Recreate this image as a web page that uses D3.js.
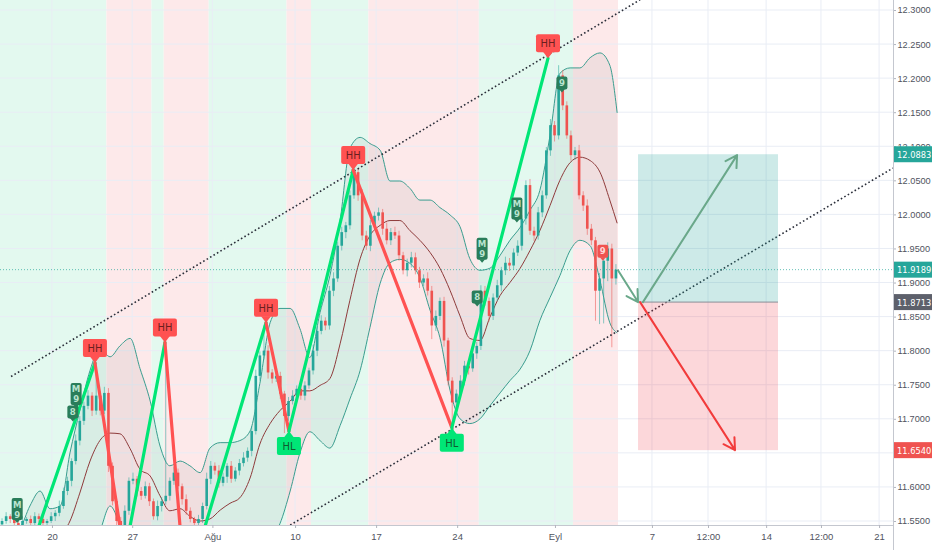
<!DOCTYPE html>
<html>
<head>
<meta charset="utf-8">
<script src="https://cdn.jsdelivr.net/npm/d3@7"></script>
<style>
  html, body { margin: 0; padding: 0; background: #fff; }
  svg { display: block; font-family: "DejaVu Sans Condensed", "Liberation Sans", sans-serif; }
</style>
</head>
<body>
<div id="container"></div>
<script>
"use strict";

// 4h candles, open = previous close
const firstOpen = 11.545;
const closes = [
  11.550, 11.557, 11.553, 11.547, 11.543, 11.550, 11.553, 11.547, 11.557, 11.553,
  11.547, 11.550, 11.557, 11.562, 11.572, 11.594, 11.609, 11.638, 11.668, 11.697,
  11.719, 11.734, 11.712, 11.734, 11.712, 11.738, 11.631, 11.579, 11.550, 11.535,
  11.565, 11.609, 11.612, 11.594, 11.587, 11.601, 11.579, 11.557, 11.572, 11.579,
  11.587, 11.609, 11.621, 11.601, 11.582, 11.565, 11.553, 11.547, 11.553, 11.572,
  11.612, 11.631, 11.624, 11.606, 11.615, 11.631, 11.612, 11.624, 11.635, 11.643,
  11.653, 11.682, 11.763, 11.793, 11.800, 11.768, 11.759, 11.763, 11.737, 11.704,
  11.726, 11.734, 11.744, 11.734, 11.749, 11.771, 11.800, 11.829, 11.844, 11.837,
  11.888, 11.906, 11.954, 11.974, 11.984, 12.028, 12.062, 12.028, 11.969, 11.954,
  11.984, 11.998, 12.003, 11.979, 11.962, 11.974, 11.969, 11.940, 11.918, 11.929,
  11.937, 11.918, 11.900, 11.906, 11.888, 11.837, 11.851, 11.873, 11.815, 11.756,
  11.724, 11.737, 11.756, 11.778, 11.774, 11.796, 11.807, 11.888, 11.873, 11.851,
  11.878, 11.896, 11.918, 11.929, 11.925, 11.944, 11.954, 11.994, 12.043, 11.976,
  11.969, 12.003, 12.028, 12.094, 12.131, 12.116, 12.204, 12.160, 12.116, 12.087,
  12.094, 12.028, 12.013, 11.979, 11.962, 11.888, 11.906, 11.932, 11.950, 11.906,
  11.919
];
// wick lengths above / below the body, in 0.001
const wickUp = [
  4, 6, 3, 5, 4, 7, 3, 5, 6, 4,
  5, 3, 6, 4, 8, 5, 6, 4, 9, 7,
  6, 8, 5, 48, 6, 9, 7, 5, 4, 6,
  8, 5, 9, 4, 6, 7, 5, 4, 8, 6,
  224, 5, 8, 6, 4, 7, 5, 3, 6, 5,
  9, 7, 5, 8, 6, 4, 7, 5, 6, 8,
  5, 7, 9, 6, 37, 8, 5, 7, 6, 4,
  6, 8, 5, 7, 6, 4, 9, 6, 8, 5,
  7, 9, 6, 8, 5, 7, 10, 6, 9, 7,
  8, 6, 7, 5, 9, 6, 8, 7, 5, 6,
  8, 7, 5, 6, 9, 7, 8, 5, 6, 4,
  5, 6, 8, 7, 5, 9, 6, 8, 7, 5,
  6, 8, 5, 9, 7, 6, 8, 5, 7, 9,
  6, 8, 7, 5, 9, 6, 15, 8, 6, 7,
  5, 8, 6, 9, 7, 5, 8, 6, 9, 7,
  8
];
const wickDn = [
  5, 4, 6, 3, 7, 5, 4, 6, 3, 5,
  4, 6, 3, 7, 5, 4, 6, 8, 5, 7,
  6, 5, 8, 6, 7, 5, 9, 6, 8, 5,
  7, 6, 5, 8, 6, 4, 7, 5, 6, 8,
  5, 7, 6, 4, 8, 6, 5, 7, 4, 6,
  5, 8, 6, 7, 5, 9, 6, 4, 7, 5,
  6, 8, 5, 7, 6, 9, 7, 5, 8, 25,
  7, 5, 8, 6, 7, 5, 6, 8, 5, 7,
  6, 8, 5, 7, 9, 6, 5, 8, 7, 6,
  8, 5, 7, 9, 6, 7, 5, 8, 6, 9,
  7, 6, 8, 5, 7, 20, 8, 6, 9, 7,
  37, 8, 6, 7, 9, 5, 8, 6, 7, 8,
  6, 5, 9, 7, 8, 6, 5, 7, 9, 6,
  8, 6, 7, 5, 8, 9, 6, 7, 5, 8,
  7, 6, 8, 9, 7, 44, 49, 66, 30, 101,
  9
];

// bollinger bands, sampled along the bars
const bbBar = [
  0, 2.4, 4.9, 7.3, 9.8, 12.2, 14.7, 17.1, 19.5, 22.0,
  24.4, 26.9, 29.3, 31.8, 34.2, 36.7, 39.1, 41.5, 44.0, 46.4,
  48.9, 51.3, 53.8, 56.2, 58.6, 61.1, 63.5, 66.0, 68.4, 70.9,
  73.3, 75.7, 78.2, 80.6, 83.1, 85.5, 88.0, 90.4, 92.9, 95.3,
  97.7, 100.2, 102.6, 105.1, 107.5, 110.0, 112.4, 114.8, 117.3, 119.7,
  122.2, 124.6, 127.1, 129.5, 131.9, 134.4, 136.8, 139.3, 141.7, 144.2,
  146.6, 149.0, 150.8
];
const bbUpper = [
  11.528, 11.532, 11.540, 11.572, 11.594, 11.568, 11.572, 11.650, 11.712, 11.771,
  11.803, 11.791, 11.807, 11.818, 11.774, 11.726, 11.660, 11.631, 11.638, 11.631,
  11.621, 11.657, 11.665, 11.665, 11.668, 11.682, 11.752, 11.841, 11.862, 11.862,
  11.832, 11.790, 11.856, 11.910, 11.991, 12.097, 12.113, 12.104, 12.094, 12.049,
  12.049, 12.038, 12.021, 12.021, 12.010, 11.999, 11.982, 11.935, 11.918, 11.921,
  11.940, 11.962, 11.981, 12.006, 12.035, 12.116, 12.207, 12.215, 12.215, 12.230,
  12.237, 12.219, 12.149
];
const bbMiddle = [
  11.432, 11.447, 11.469, 11.491, 11.506, 11.513, 11.528, 11.550, 11.591, 11.638,
  11.668, 11.679, 11.678, 11.656, 11.626, 11.616, 11.587, 11.565, 11.568, 11.557,
  11.550, 11.553, 11.566, 11.576, 11.584, 11.613, 11.663, 11.693, 11.712, 11.726,
  11.741, 11.741, 11.749, 11.759, 11.810, 11.874, 11.935, 11.969, 11.984, 11.991,
  11.991, 11.976, 11.962, 11.944, 11.921, 11.888, 11.851, 11.818, 11.815, 11.849,
  11.881, 11.900, 11.921, 11.947, 11.976, 12.013, 12.050, 12.076, 12.084, 12.079,
  12.062, 12.021, 11.987
];
const bbLower = [
  11.344, 11.359, 11.396, 11.410, 11.418, 11.454, 11.484, 11.454, 11.469, 11.506,
  11.535, 11.572, 11.543, 11.491, 11.469, 11.454, 11.447, 11.447, 11.454, 11.469,
  11.476, 11.476, 11.484, 11.491, 11.498, 11.498, 11.506, 11.521, 11.546, 11.594,
  11.650, 11.681, 11.668, 11.657, 11.690, 11.729, 11.771, 11.834, 11.899, 11.929,
  11.934, 11.928, 11.907, 11.859, 11.819, 11.741, 11.700, 11.693, 11.700, 11.719,
  11.738, 11.756, 11.773, 11.800, 11.844, 11.878, 11.910, 11.947, 11.962, 11.954,
  11.903, 11.841, 11.826
];

// trend background zones (bar edges)
const zoneEdges = [0, 26, 37, 40, 51, 70, 76, 90, 117, 140, 151];
const zoneTrend = ["up", "down", "up", "down", "up", "down", "up", "down", "up", "down"];

// zigzag pivots
const pivotBars = [7.3, 23.2, 30.4, 40.3, 45.3, 65.0, 70.6, 86.3, 110.4, 133.9];
const pivotPrices = [11.504, 11.782, 11.499, 11.812, 11.446, 11.841, 11.682, 12.065, 11.687, 12.229];
const pivotTags = ["", "HH", "", "HH", "", "HH", "HL", "HH", "HL", "HH"];

// sequential count labels
const tdBars = [4.2, 18.6, 17.8, 117.8, 116.6, 126.3, 137.3, 147.3];
const tdPrices = [11.547, 11.716, 11.696, 11.929, 11.865, 11.988, 12.179, 11.932];
const tdTexts = ["M9", "M9", "8", "M9", "8", "M9", "9", "9"];
const tdTrend = ["up", "up", "up", "up", "up", "up", "up", "down"];

// parallel channel
const channelTop = [[2.7, 11.762], [156.4, 12.315]];
const channelBottom = [[70.9, 11.544], [218.2, 12.068]];

// long position tool
const posBars = [155.9, 190.1];
const posEntry = 11.8713;
const posTarget = 12.0883;
const posStop = 11.6540;
const lastPrice = 11.9189;

// arrows: [from bar, from price, to bar, to price]
const arrowLines = [
  [151.0, 11.918, 155.9, 11.8713],
  [157.1, 11.8713, 180.1, 12.087],
  [156.4, 11.8713, 179.6, 11.654]
];
const arrowColors = ["#6aa88a", "#6aa88a", "#f23b3b"];

// axes (11.65 sits under the stop label)
const priceTicks = [11.55, 11.60, 11.70, 11.75, 11.80, 11.85, 11.90, 11.95, 12.00, 12.05, 12.10, 12.15, 12.20, 12.25, 12.30];
const dateTickBars = [12.7, 32.3, 51.9, 72.1, 91.9, 111.7, 135.6, 159.3, 173.0, 187.2, 200.6, 214.8];
const dateTickLabels = ["20", "27", "Ağu", "10", "17", "24", "Eyl", "7", "12:00", "14", "12:00", "21"];

const width = 932, height = 550;
const plotW = 893, plotH = 525;

const x = d3.scaleLinear().domain([0, 218.2]).range([0, plotW]);
const y = d3.scaleLinear().domain([11.55, 12.30]).range([521, 10]);
const step = x(1) - x(0);

const svg = d3.select("#container").append("svg")
  .attr("width", width).attr("height", height);

svg.append("defs").append("clipPath").attr("id", "plot")
  .append("rect").attr("width", plotW).attr("height", plotH);

const g = svg.append("g").attr("clip-path", "url(#plot)");

// background zones
g.selectAll(".zone").data(zoneTrend).enter().append("rect")
  .attr("x", (d, i) => x(zoneEdges[i]))
  .attr("width", (d, i) => x(zoneEdges[i + 1]) - x(zoneEdges[i]))
  .attr("y", 0).attr("height", plotH)
  .attr("fill", d => d === "up" ? "#e3f9ef" : "#fde9ea");

// grid
g.selectAll(".hgrid").data(priceTicks.concat([11.65])).enter().append("line")
  .attr("x1", 0).attr("x2", plotW)
  .attr("y1", d => y(d)).attr("y2", d => y(d))
  .attr("stroke", "#e9edf5").attr("stroke-width", 1);
g.selectAll(".vgrid").data(dateTickBars).enter().append("line")
  .attr("x1", d => x(d)).attr("x2", d => x(d))
  .attr("y1", 0).attr("y2", plotH)
  .attr("stroke", "#e9edf5").attr("stroke-width", 1);

// bollinger bands
const bb = bbBar.map((b, i) => ({ b, u: bbUpper[i], m: bbMiddle[i], l: bbLower[i] }));
g.append("path").datum(bb)
  .attr("d", d3.area().curve(d3.curveMonotoneX).x(d => x(d.b)).y0(d => y(d.l)).y1(d => y(d.u)))
  .attr("fill", "rgba(70,80,80,0.07)");
[["u", "#3a9d8f"], ["l", "#3a9d8f"], ["m", "#8e3b3b"]].forEach(([k, c]) => {
  g.append("path").datum(bb)
    .attr("d", d3.line().curve(d3.curveMonotoneX).x(d => x(d.b)).y(d => y(d[k])))
    .attr("fill", "none").attr("stroke", c).attr("stroke-width", 1);
});

// candles
const candles = closes.map((c, i) => {
  const o = i === 0 ? firstOpen : closes[i - 1];
  return { i, o, c, h: Math.max(o, c) + wickUp[i] / 1000, l: Math.min(o, c) - wickDn[i] / 1000 };
});
const upCol = "#26a69a", dnCol = "#ef5350";
g.selectAll(".wick").data(candles).enter().append("line")
  .attr("x1", d => x(d.i + 0.5)).attr("x2", d => x(d.i + 0.5))
  .attr("y1", d => y(d.h)).attr("y2", d => y(d.l))
  .attr("stroke", d => d.c >= d.o ? upCol : dnCol)
  .attr("stroke-opacity", 0.55).attr("stroke-width", 1);
g.selectAll(".body").data(candles).enter().append("rect")
  .attr("x", d => x(d.i + 0.5) - step * 0.32)
  .attr("width", step * 0.64)
  .attr("y", d => y(Math.max(d.o, d.c)))
  .attr("height", d => Math.max(1, Math.abs(y(d.o) - y(d.c))))
  .attr("fill", d => d.c >= d.o ? upCol : dnCol);

// channel
[channelTop, channelBottom].forEach(pts => {
  g.append("line")
    .attr("x1", x(pts[0][0])).attr("y1", y(pts[0][1]))
    .attr("x2", x(pts[1][0])).attr("y2", y(pts[1][1]))
    .attr("stroke", "#2a2e39").attr("stroke-width", 1.6)
    .attr("stroke-dasharray", "1.6,2.4");
});

// zigzag
for (let i = 0; i < pivotBars.length - 1; i++) {
  const rising = pivotPrices[i + 1] > pivotPrices[i];
  g.append("line")
    .attr("x1", x(pivotBars[i])).attr("y1", y(pivotPrices[i]))
    .attr("x2", x(pivotBars[i + 1])).attr("y2", y(pivotPrices[i + 1]))
    .attr("stroke", rising ? "#00e676" : "#ff5252")
    .attr("stroke-width", 3.2).attr("stroke-linecap", "round");
}

// sequential labels
tdTexts.forEach((t, i) => {
  const cx = x(tdBars[i]), ty = y(tdPrices[i]);
  const h = t.length > 1 ? 22 : 13;
  const fill = tdTrend[i] === "up" ? "#2a7d5a" : "#f05350";
  const lg = g.append("g");
  lg.append("rect").attr("x", cx - 5.5).attr("y", ty - 3 - h).attr("width", 11).attr("height", h)
    .attr("rx", 2).attr("fill", fill);
  lg.append("path").attr("d", `M${cx - 3},${ty - 3.5}L${cx + 3},${ty - 3.5}L${cx},${ty}Z`).attr("fill", fill);
  t.split("").forEach((ch, k) => {
    lg.append("text").attr("x", cx).attr("y", ty - 3 - h + 9.5 + k * 10)
      .attr("text-anchor", "middle").attr("font-size", 9.5).attr("font-weight", "bold")
      .attr("fill", tdTrend[i] === "up" ? "#b9e4cf" : "#ffd7d7").text(ch);
  });
});

// pivot tags
pivotTags.forEach((t, i) => {
  if (!t) return;
  const px = x(pivotBars[i]), py = y(pivotPrices[i]);
  const high = t === "HH";
  const fill = high ? "#ff5252" : "#00e676";
  const lg = svg.append("g").attr("clip-path", "url(#plot)");
  const by = high ? py - 24 : py + 6;
  lg.append("rect").attr("x", px - 12).attr("y", by).attr("width", 24).attr("height", 18)
    .attr("rx", 2).attr("fill", fill);
  lg.append("path")
    .attr("d", high ? `M${px - 5},${py - 6.5}L${px + 5},${py - 6.5}L${px},${py}Z`
                    : `M${px - 5},${py + 6.5}L${px + 5},${py + 6.5}L${px},${py}Z`)
    .attr("fill", fill);
  lg.append("text").attr("x", px).attr("y", by + 13).attr("text-anchor", "middle")
    .attr("font-size", 11).attr("fill", high ? "#6b1f1f" : "#0f5a2f").text(t);
});

// long position
const px0 = x(posBars[0]), px1 = x(posBars[1]);
g.append("rect").attr("x", px0).attr("width", px1 - px0)
  .attr("y", y(posTarget)).attr("height", y(posEntry) - y(posTarget))
  .attr("fill", "rgba(38,166,154,0.23)");
g.append("rect").attr("x", px0).attr("width", px1 - px0)
  .attr("y", y(posEntry)).attr("height", y(posStop) - y(posEntry))
  .attr("fill", "rgba(242,54,69,0.2)");
g.append("line").attr("x1", px0).attr("x2", px1).attr("y1", y(posEntry)).attr("y2", y(posEntry))
  .attr("stroke", "#8a8d96").attr("stroke-width", 1);

// last price line
g.append("line").attr("x1", 0).attr("x2", plotW).attr("y1", y(lastPrice)).attr("y2", y(lastPrice))
  .attr("stroke", "#26a69a").attr("stroke-opacity", 0.7).attr("stroke-width", 1)
  .attr("stroke-dasharray", "1,2");

// arrows
arrowLines.forEach((a, i) => {
  const x1 = x(a[0]), y1 = y(a[1]), x2 = x(a[2]), y2 = y(a[3]);
  const ang = Math.atan2(y2 - y1, x2 - x1);
  const len = 13, spread = Math.PI / 6;
  const hx1 = x2 - len * Math.cos(ang - spread), hy1 = y2 - len * Math.sin(ang - spread);
  const hx2 = x2 - len * Math.cos(ang + spread), hy2 = y2 - len * Math.sin(ang + spread);
  g.append("path")
    .attr("d", `M${x1},${y1}L${x2},${y2}M${hx1},${hy1}L${x2},${y2}L${hx2},${hy2}`)
    .attr("fill", "none").attr("stroke", arrowColors[i]).attr("stroke-width", 2)
    .attr("stroke-linecap", "round").attr("stroke-linejoin", "round");
});

// price axis
const yAxis = svg.append("g").attr("transform", `translate(${plotW},0)`)
  .call(d3.axisRight(y).tickValues(priceTicks).tickFormat(d3.format(".4f")).tickSize(3).tickPadding(1.5));
yAxis.select(".domain").remove();
yAxis.selectAll("line").attr("stroke", "#b2b5be");
yAxis.selectAll("text").attr("font-size", 9.2).attr("fill", "#50535e");
svg.append("line").attr("x1", plotW + 0.5).attr("x2", plotW + 0.5).attr("y1", 0).attr("y2", height)
  .attr("stroke", "#c4c7cf");

// time axis
const xAxis = svg.append("g").attr("transform", `translate(0,${plotH})`)
  .call(d3.axisBottom(x).tickValues(dateTickBars).tickFormat((d, i) => dateTickLabels[i]).tickSize(3).tickPadding(5));
xAxis.select(".domain").attr("stroke", "#c4c7cf").attr("d", `M0,0.5H${plotW}`);
xAxis.selectAll("line").attr("stroke", "#b2b5be");
xAxis.selectAll("text").attr("font-size", 9.5).attr("fill", "#50535e");

// price labels on axis
const axisLabels = [
  [posTarget, "#26a69a"],
  [lastPrice, "#26a69a"],
  [posEntry, "#5d606b"],
  [posStop, "#ef5350"]
];
axisLabels.forEach(([v, c]) => {
  svg.append("rect").attr("x", plotW + 1).attr("y", y(v) - 8).attr("width", width - plotW - 1).attr("height", 16)
    .attr("fill", c);
  svg.append("text").attr("x", plotW + 4).attr("y", y(v) + 3.5).attr("font-size", 9.2)
    .attr("fill", "#ffffff").text(d3.format(".4f")(v));
});
</script>
</body>
</html>
